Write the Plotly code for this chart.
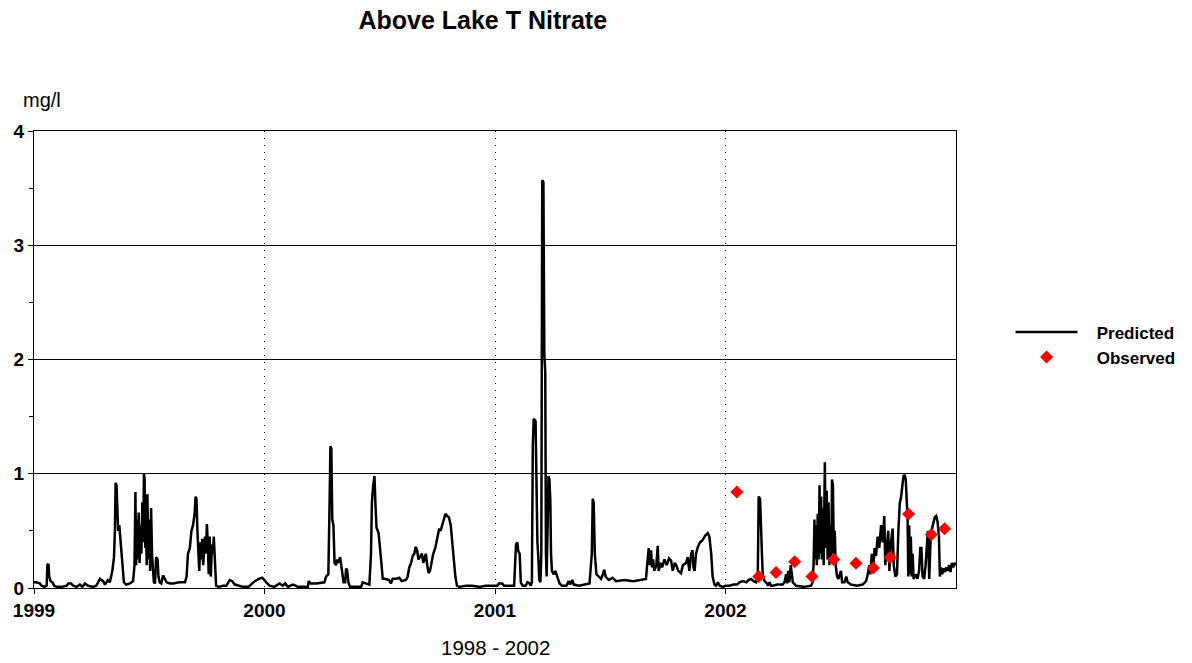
import plotly.graph_objects as go

# Predicted nitrate (decimal year, mg/l)
pred_1999 = [
    (1999.000, 0.05), (1999.010, 0.05), (1999.025, 0.04), (1999.033, 0.02), (1999.045, 0.01),
    (1999.055, 0.02), (1999.058, 0.20), (1999.063, 0.21), (1999.066, 0.10), (1999.072, 0.06),
    (1999.080, 0.05), (1999.088, 0.02), (1999.098, 0.01), (1999.120, 0.01), (1999.142, 0.02),
    (1999.149, 0.04), (1999.160, 0.04), (1999.170, 0.02), (1999.185, 0.01), (1999.199, 0.03),
    (1999.210, 0.01), (1999.221, 0.04), (1999.235, 0.02), (1999.257, 0.01), (1999.270, 0.02),
    (1999.286, 0.08), (1999.300, 0.06), (1999.308, 0.03), (1999.320, 0.07), (1999.329, 0.05),
    (1999.340, 0.15), (1999.347, 0.27), (1999.351, 0.50), (1999.354, 0.92), (1999.358, 0.90),
    (1999.362, 0.60), (1999.365, 0.50), (1999.370, 0.55), (1999.376, 0.40), (1999.384, 0.25),
    (1999.390, 0.05), (1999.400, 0.03), (1999.416, 0.04), (1999.430, 0.06), (1999.436, 0.20),
    (1999.440, 0.84), (1999.443, 0.20), (1999.447, 0.60), (1999.450, 0.25), (1999.454, 0.66),
    (1999.458, 0.22), (1999.462, 0.55), (1999.466, 0.30), (1999.470, 0.75), (1999.474, 0.40),
    (1999.477, 1.00), (1999.480, 0.95), (1999.483, 0.35), (1999.486, 0.60), (1999.489, 0.20),
    (1999.492, 0.82), (1999.496, 0.25), (1999.500, 0.60), (1999.504, 0.15), (1999.508, 0.70),
    (1999.512, 0.30), (1999.516, 0.10), (1999.520, 0.05), (1999.525, 0.04), (1999.530, 0.27),
    (1999.536, 0.25), (1999.540, 0.10), (1999.545, 0.05), (1999.552, 0.04), (1999.560, 0.11),
    (1999.566, 0.08), (1999.575, 0.05), (1999.590, 0.04), (1999.604, 0.04), (1999.630, 0.05),
    (1999.655, 0.05), (1999.662, 0.10), (1999.668, 0.30), (1999.676, 0.35), (1999.683, 0.50),
    (1999.690, 0.55), (1999.697, 0.65), (1999.701, 0.80), (1999.705, 0.78), (1999.709, 0.50),
    (1999.713, 0.35), (1999.717, 0.15), (1999.721, 0.40), (1999.725, 0.25), (1999.730, 0.43),
    (1999.734, 0.20), (1999.738, 0.35), (1999.742, 0.45), (1999.746, 0.30), (1999.750, 0.56),
    (1999.754, 0.40), (1999.758, 0.12), (1999.762, 0.45), (1999.767, 0.10), (1999.772, 0.38),
    (1999.776, 0.30), (1999.780, 0.45), (1999.784, 0.20), (1999.790, 0.02), (1999.800, 0.01),
    (1999.820, 0.02), (1999.835, 0.02), (1999.849, 0.07), (1999.860, 0.06), (1999.871, 0.03),
    (1999.890, 0.02), (1999.907, 0.01), (1999.930, 0.01), (1999.958, 0.06), (1999.975, 0.08),
    (1999.990, 0.09),
]

pred_2000 = [
    (2000.000, 0.07), (2000.007, 0.05), (2000.022, 0.02), (2000.043, 0.01), (2000.058, 0.03),
    (2000.065, 0.04), (2000.079, 0.02), (2000.090, 0.04), (2000.101, 0.01), (2000.123, 0.03),
    (2000.135, 0.02), (2000.144, 0.01), (2000.170, 0.01), (2000.188, 0.01), (2000.192, 0.06),
    (2000.200, 0.04), (2000.224, 0.04), (2000.260, 0.05), (2000.267, 0.10), (2000.277, 0.12),
    (2000.282, 0.70), (2000.286, 1.24), (2000.290, 1.22), (2000.294, 0.60), (2000.299, 0.55),
    (2000.304, 0.22), (2000.310, 0.20), (2000.316, 0.25), (2000.321, 0.22), (2000.328, 0.27),
    (2000.333, 0.20), (2000.337, 0.12), (2000.343, 0.05), (2000.350, 0.05), (2000.354, 0.17),
    (2000.358, 0.16), (2000.364, 0.05), (2000.371, 0.01), (2000.400, 0.01), (2000.419, 0.01),
    (2000.426, 0.05), (2000.440, 0.04), (2000.455, 0.03), (2000.462, 0.30), (2000.466, 0.75),
    (2000.472, 0.90), (2000.477, 0.98), (2000.482, 0.70), (2000.486, 0.53), (2000.495, 0.48),
    (2000.502, 0.35), (2000.508, 0.20), (2000.513, 0.08), (2000.520, 0.08), (2000.540, 0.07),
    (2000.548, 0.04), (2000.556, 0.08), (2000.571, 0.08), (2000.585, 0.09), (2000.595, 0.06),
    (2000.614, 0.07), (2000.621, 0.10), (2000.628, 0.18), (2000.636, 0.22), (2000.643, 0.28),
    (2000.650, 0.30), (2000.656, 0.36), (2000.662, 0.33), (2000.668, 0.25), (2000.675, 0.28),
    (2000.683, 0.30), (2000.689, 0.22), (2000.695, 0.27), (2000.700, 0.30), (2000.706, 0.20),
    (2000.712, 0.13), (2000.718, 0.15), (2000.725, 0.22), (2000.732, 0.30), (2000.741, 0.35),
    (2000.750, 0.45), (2000.758, 0.52), (2000.764, 0.50), (2000.770, 0.54), (2000.778, 0.60),
    (2000.785, 0.65), (2000.792, 0.63), (2000.800, 0.62), (2000.808, 0.55), (2000.815, 0.40),
    (2000.821, 0.25), (2000.828, 0.10), (2000.835, 0.02), (2000.845, 0.01), (2000.874, 0.02),
    (2000.900, 0.02), (2000.932, 0.01), (2000.960, 0.02), (2000.990, 0.02),
]

pred_2001 = [
    (2001.000, 0.02), (2001.010, 0.02), (2001.017, 0.04), (2001.032, 0.04), (2001.039, 0.02),
    (2001.083, 0.02), (2001.087, 0.20), (2001.091, 0.38), (2001.097, 0.40), (2001.101, 0.32),
    (2001.107, 0.30), (2001.112, 0.05), (2001.120, 0.02), (2001.133, 0.02), (2001.141, 0.05),
    (2001.150, 0.04), (2001.155, 0.02), (2001.160, 0.05), (2001.164, 1.25), (2001.168, 1.48),
    (2001.176, 1.46), (2001.180, 0.77), (2001.184, 0.40), (2001.188, 0.27), (2001.192, 0.07),
    (2001.197, 0.05), (2001.201, 0.30), (2001.205, 3.57), (2001.210, 3.55), (2001.214, 2.04),
    (2001.218, 1.90), (2001.221, 0.30), (2001.224, 0.10), (2001.228, 0.50), (2001.232, 0.98),
    (2001.236, 0.95), (2001.240, 0.77), (2001.243, 0.30), (2001.247, 0.15), (2001.255, 0.12),
    (2001.262, 0.15), (2001.270, 0.10), (2001.280, 0.04), (2001.290, 0.02), (2001.310, 0.02),
    (2001.320, 0.06), (2001.326, 0.03), (2001.335, 0.07), (2001.342, 0.03), (2001.364, 0.02),
    (2001.386, 0.03), (2001.410, 0.04), (2001.420, 0.30), (2001.424, 0.78), (2001.428, 0.75),
    (2001.433, 0.30), (2001.440, 0.12), (2001.451, 0.10), (2001.460, 0.08), (2001.468, 0.12),
    (2001.474, 0.16), (2001.480, 0.10), (2001.494, 0.07), (2001.510, 0.09), (2001.525, 0.06),
    (2001.560, 0.07), (2001.600, 0.06), (2001.630, 0.07), (2001.655, 0.08), (2001.660, 0.20),
    (2001.667, 0.35), (2001.672, 0.20), (2001.677, 0.33), (2001.681, 0.18), (2001.686, 0.25),
    (2001.691, 0.15), (2001.700, 0.20), (2001.706, 0.37), (2001.710, 0.15), (2001.718, 0.22),
    (2001.725, 0.18), (2001.735, 0.25), (2001.745, 0.20), (2001.755, 0.26), (2001.764, 0.24),
    (2001.771, 0.15), (2001.780, 0.22), (2001.786, 0.20), (2001.795, 0.15), (2001.807, 0.13),
    (2001.815, 0.20), (2001.829, 0.22), (2001.836, 0.27), (2001.843, 0.15), (2001.851, 0.30),
    (2001.857, 0.33), (2001.861, 0.18), (2001.866, 0.15), (2001.872, 0.30), (2001.880, 0.36),
    (2001.890, 0.40), (2001.901, 0.42), (2001.912, 0.46), (2001.923, 0.48), (2001.930, 0.45),
    (2001.938, 0.30), (2001.944, 0.10), (2001.952, 0.03), (2001.959, 0.02), (2001.967, 0.05),
    (2001.975, 0.02), (2001.988, 0.01),
]

pred_2002 = [
    (2002.000, 0.02), (2002.017, 0.02), (2002.035, 0.03), (2002.050, 0.03), (2002.061, 0.05),
    (2002.075, 0.06), (2002.090, 0.05), (2002.100, 0.07), (2002.111, 0.08), (2002.122, 0.06),
    (2002.133, 0.05), (2002.140, 0.10), (2002.144, 0.80), (2002.150, 0.78), (2002.154, 0.40),
    (2002.158, 0.30), (2002.162, 0.10), (2002.170, 0.06), (2002.176, 0.05), (2002.185, 0.02),
    (2002.191, 0.05), (2002.198, 0.02), (2002.205, 0.02), (2002.225, 0.03), (2002.248, 0.03),
    (2002.256, 0.05), (2002.263, 0.12), (2002.267, 0.04), (2002.272, 0.15), (2002.277, 0.05),
    (2002.283, 0.20), (2002.288, 0.10), (2002.292, 0.05), (2002.306, 0.02), (2002.340, 0.01),
    (2002.371, 0.02), (2002.378, 0.05), (2002.382, 0.20), (2002.386, 0.60), (2002.389, 0.25),
    (2002.393, 0.55), (2002.396, 0.20), (2002.400, 0.65), (2002.404, 0.25), (2002.408, 0.90),
    (2002.411, 0.30), (2002.415, 0.80), (2002.418, 0.25), (2002.422, 0.70), (2002.426, 0.20),
    (2002.431, 1.10), (2002.435, 0.35), (2002.439, 0.85), (2002.443, 0.25), (2002.447, 0.75),
    (2002.451, 0.20), (2002.455, 0.55), (2002.459, 0.25), (2002.462, 0.95), (2002.466, 0.90),
    (2002.470, 0.30), (2002.474, 0.50), (2002.478, 0.20), (2002.484, 0.10), (2002.490, 0.08),
    (2002.496, 0.12), (2002.501, 0.15), (2002.506, 0.05), (2002.516, 0.05), (2002.524, 0.10),
    (2002.530, 0.05), (2002.545, 0.03), (2002.570, 0.02), (2002.595, 0.03), (2002.610, 0.06),
    (2002.617, 0.12), (2002.624, 0.20), (2002.628, 0.12), (2002.635, 0.30), (2002.641, 0.18),
    (2002.647, 0.35), (2002.653, 0.28), (2002.660, 0.45), (2002.667, 0.35), (2002.675, 0.55),
    (2002.682, 0.40), (2002.689, 0.63), (2002.693, 0.20), (2002.700, 0.35), (2002.706, 0.50),
    (2002.711, 0.15), (2002.718, 0.40), (2002.725, 0.52), (2002.730, 0.20), (2002.737, 0.10),
    (2002.744, 0.12), (2002.750, 0.50), (2002.756, 0.74), (2002.762, 0.80), (2002.767, 0.90),
    (2002.772, 0.98), (2002.777, 0.99), (2002.782, 0.95), (2002.786, 0.78), (2002.790, 0.60),
    (2002.793, 0.10), (2002.797, 0.55), (2002.800, 0.12), (2002.804, 0.45), (2002.808, 0.10),
    (2002.812, 0.30), (2002.816, 0.08), (2002.822, 0.10), (2002.828, 0.12), (2002.833, 0.08),
    (2002.840, 0.15), (2002.845, 0.35), (2002.850, 0.35), (2002.855, 0.10), (2002.862, 0.08),
    (2002.868, 0.20), (2002.873, 0.35), (2002.878, 0.50), (2002.884, 0.08), (2002.890, 0.45),
    (2002.896, 0.52), (2002.902, 0.58), (2002.908, 0.62), (2002.914, 0.63), (2002.920, 0.58),
    (2002.926, 0.45), (2002.930, 0.10), (2002.935, 0.18), (2002.940, 0.12), (2002.946, 0.17),
    (2002.952, 0.14), (2002.958, 0.18), (2002.964, 0.15), (2002.970, 0.20), (2002.976, 0.14),
    (2002.982, 0.22), (2002.988, 0.18), (2002.995, 0.22), (2003.000, 0.20),
]

# Observed nitrate samples
obs_years = [2002.049, 2002.144, 2002.219, 2002.300, 2002.375, 2002.469,
             2002.566, 2002.641, 2002.714, 2002.794, 2002.893, 2002.950]
obs_values = [0.84, 0.10, 0.135, 0.23, 0.10, 0.25,
              0.217, 0.175, 0.266, 0.647, 0.468, 0.518]

year_ticks = [1999, 2000, 2001, 2002]
year_labels = ["1999", "2000", "2001", "2002"]
y_ticks = [0, 1, 2, 3, 4]

predicted = pred_1999 + pred_2000 + pred_2001 + pred_2002
pred_x = [p[0] for p in predicted]
pred_y = [p[1] for p in predicted]

FONT = "Arial, 'Liberation Sans', sans-serif"
PAD = "\u00a0\u00a0\u00a0"

fig = go.Figure()
fig.add_trace(go.Scatter(
    x=pred_x, y=pred_y, mode="lines", name=PAD + "Predicted",
    line=dict(color="black", width=2.5),
))
fig.add_trace(go.Scatter(
    x=obs_years, y=obs_values, mode="markers", name=PAD + "Observed",
    marker=dict(symbol="diamond", color="#ff0000", size=10, line=dict(width=0)),
))

fig.update_layout(
    width=1192, height=663,
    margin=dict(l=34, r=235, t=131, b=75),
    paper_bgcolor="white", plot_bgcolor="white",
    font=dict(family=FONT, color="black"),
    title=dict(text="<b>Above Lake T Nitrate</b>", x=0.405, xanchor="center",
               y=0.97, yanchor="middle", font=dict(size=25, family=FONT, color="black")),
    showlegend=True,
    legend=dict(x=1.058, y=0.532, xanchor="left", yanchor="middle",
                font=dict(size=17, family=FONT, color="black", weight="bold"),
                itemwidth=62, bgcolor="rgba(0,0,0,0)", tracegroupgap=0),
    annotations=[
        dict(text="mg/l", xref="paper", yref="paper", x=-0.014, y=1.068,
             xanchor="left", yanchor="middle", showarrow=False,
             font=dict(size=20, family=FONT, color="black")),
        dict(text="1998 - 2002", xref="paper", yref="paper", x=0.5, y=-0.131,
             xanchor="center", yanchor="middle", showarrow=False,
             font=dict(size=20.5, family=FONT, color="black")),
    ],
)

fig.update_xaxes(
    range=[1999, 2003], tickvals=year_ticks, ticktext=year_labels,
    showgrid=True, gridcolor="black", gridwidth=1, griddash="1px,6px",
    showline=True, linecolor="black", linewidth=1, mirror=True,
    ticks="outside", ticklen=5, tickcolor="black",
    tickfont=dict(size=19, family=FONT, color="black", weight="bold"),
    zeroline=False,
)
fig.update_yaxes(
    range=[0, 4], tickvals=y_ticks,
    showgrid=True, gridcolor="black", gridwidth=1,
    showline=True, linecolor="black", linewidth=1, mirror=True,
    ticks="outside", ticklen=5, tickcolor="black",
    minor=dict(dtick=0.5, ticks="outside", ticklen=4, tickcolor="black", showgrid=False),
    tickfont=dict(size=19, family=FONT, color="black", weight="bold"),
    zeroline=False,
)

fig.write_html("out.html")
